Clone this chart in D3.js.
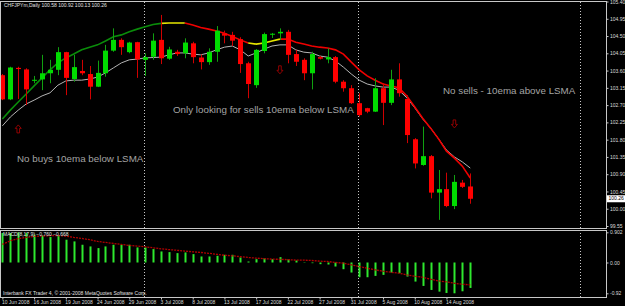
<!DOCTYPE html>
<html>
<head>
<meta charset="utf-8">
<script src="https://cdn.jsdelivr.net/npm/d3@7"></script>
<style>
	body { margin: 0; background: #000; }
	svg { display: block; }
</style>
</head>
<body>
<div id="chart"></div>
<script>
var symbol = "CHFJPYm";
var period = "Daily";

// daily bars from 10 Jun 2008 (sunday bars included)
var opens = [103.48, 102.85, 103.67, 103.63, 103.35, 103.37, 103.53, 103.62, 104.08, 103.38,
	103.59, 103.51, 103.18, 103.53, 104.12, 104.40, 104.08, 104.34, 103.88, 103.96,
	104.40, 103.91, 104.09, 104.05, 104.31, 103.94, 103.82, 104.09, 104.57, 104.53,
	104.42, 103.79, 103.22, 104.11, 104.54, 104.57, 104.61, 104.03, 103.88, 103.53,
	103.95, 103.89, 103.95, 103.31, 103.14, 102.75, 102.62, 102.53, 103.14, 102.76,
	103.37, 102.86, 101.81, 101.14, 101.37, 100.42, 100.51, 100.07, 100.68, 100.58];
var highs = [103.51, 103.70, 103.70, 103.66, 103.46, 104.01, 103.88, 104.21, 104.09, 104.01,
	103.88, 103.72, 103.86, 104.27, 104.70, 104.44, 104.35, 104.35, 104.05, 104.57,
	105.05, 104.22, 104.14, 104.44, 104.35, 104.02, 104.18, 104.76, 104.64, 104.61,
	104.47, 103.83, 104.16, 104.59, 104.58, 104.70, 104.66, 104.14, 103.92, 104.09,
	103.98, 104.18, 103.98, 103.35, 103.22, 103.01, 102.63, 103.40, 103.27, 103.62,
	103.79, 102.96, 101.84, 102.14, 101.40, 101.01, 100.94, 100.88, 100.75, 100.92];
var lows = [102.83, 102.83, 102.86, 102.70, 103.27, 103.09, 103.27, 103.48, 102.96, 103.31,
	103.48, 102.85, 103.17, 103.44, 104.09, 104.01, 104.05, 103.41, 103.46, 103.88,
	103.77, 103.88, 103.98, 103.92, 103.79, 103.63, 103.75, 103.83, 104.31, 104.24,
	103.54, 102.88, 103.15, 104.05, 104.45, 104.40, 103.79, 103.72, 103.35, 103.11,
	103.89, 103.79, 103.27, 103.05, 102.73, 102.40, 102.49, 102.52, 102.18, 102.70,
	102.92, 101.71, 101.05, 101.12, 100.27, 99.71, 100.04, 99.99, 100.54, 100.13];
var closes = [102.85, 103.68, 103.64, 103.11, 103.36, 103.53, 103.62, 104.08, 103.41, 103.69,
	103.53, 103.18, 103.54, 104.12, 104.40, 104.21, 104.33, 103.89, 103.95, 104.38,
	103.92, 104.15, 104.03, 104.33, 103.95, 103.82, 104.09, 104.64, 104.51, 104.38,
	103.77, 103.25, 104.14, 104.55, 104.56, 104.61, 104.01, 103.83, 103.53, 104.03,
	103.91, 103.95, 103.31, 103.14, 102.75, 102.44, 102.53, 103.14, 102.76, 103.37,
	103.01, 101.92, 101.18, 101.37, 100.42, 100.51, 100.07, 100.70, 100.57, 100.26];

// colored LSMA, trend code per bar (segment ending at that bar)
var lsma = [102.34, 102.57, 102.78, 102.99, 103.20, 103.41, 103.62, 103.80, 103.93, 104.03,
	104.14, 104.21, 104.27, 104.37, 104.48, 104.53, 104.61, 104.68, 104.74, 104.80,
	104.83, 104.84, 104.84, 104.84, 104.79, 104.72, 104.68, 104.63, 104.57, 104.49,
	104.40, 104.32, 104.29, 104.32, 104.37, 104.42, 104.42, 104.34, 104.29, 104.24,
	104.21, 104.19, 104.14, 104.03, 103.82, 103.62, 103.46, 103.35, 103.25, 103.20,
	103.15, 102.94, 102.65, 102.36, 102.10, 101.82, 101.50, 101.32, 101.11, 100.80];
var lsmaTrend = "gggggggggggggggggggggyyyrrrrrrrryyyyrrrrrrrrrrrrrrrrrrrrrrrr".split("");
var ema10 = [102.16, 102.39, 102.57, 102.73, 102.83, 102.94, 103.02, 103.22, 103.33, 103.35,
	103.35, 103.38, 103.43, 103.54, 103.67, 103.80, 103.88, 103.90, 103.93, 103.94,
	103.95, 104.01, 104.06, 104.06, 104.03, 104.01, 104.06, 104.14, 104.21, 104.24,
	104.14, 103.98, 104.06, 104.16, 104.24, 104.27, 104.27, 104.14, 104.08, 104.06,
	103.98, 103.95, 103.85, 103.69, 103.51, 103.35, 103.25, 103.20, 103.17, 103.17,
	103.09, 102.89, 102.63, 102.34, 102.10, 101.82, 101.53, 101.35, 101.22, 101.06];

var macdMain = [0.88, 0.88, 0.902, 0.88, 0.83, 0.80, 0.76, 0.80, 0.68, 0.63,
	0.53, 0.48, 0.43, 0.48, 0.53, 0.53, 0.53, 0.45, 0.45, 0.40,
	0.33, 0.31, 0.28, 0.30, 0.25, 0.18, 0.18, 0.20, 0.23, 0.23,
	0.15, 0.03, 0.10, 0.13, 0.10, 0.16, 0.10, 0.06, 0.01, -0.02,
	-0.05, -0.06, -0.12, -0.20, -0.30, -0.44, -0.44, -0.40, -0.37, -0.30,
	-0.32, -0.42, -0.57, -0.70, -0.82, -0.87, -0.91, -0.92, -0.86, -0.760];
var macdSignal = [0.54, 0.65, 0.71, 0.75, 0.78, 0.79, 0.80, 0.80, 0.79, 0.75,
	0.72, 0.68, 0.63, 0.60, 0.57, 0.54, 0.51, 0.49, 0.47, 0.44,
	0.41, 0.385, 0.365, 0.34, 0.32, 0.30, 0.275, 0.245, 0.215, 0.20,
	0.175, 0.15, 0.13, 0.115, 0.10, 0.095, 0.085, 0.07, 0.07, 0.06,
	0.04, 0.03, 0.0, -0.02, -0.07, -0.12, -0.17, -0.22, -0.26, -0.29,
	-0.32, -0.37, -0.41, -0.44, -0.50, -0.55, -0.58, -0.62, -0.65, -0.668];

var priceTicks = [105.40, 104.95, 104.50, 104.05, 103.60, 103.15, 102.70, 102.25, 101.80, 101.35, 100.90, 100.45, 100.00, 99.55];
var macdTicks = [0.902, 0, -0.92];
var macdTickLabels = ["0.902", "0.00", "-0.92"];
var dateLabels = ["10 Jun 2008", "16 Jun 2008", "19 Jun 2008", "24 Jun 2008", "29 Jun 2008", "3 Jul 2008", "8 Jul 2008",
	"13 Jul 2008", "17 Jul 2008", "22 Jul 2008", "27 Jul 2008", "31 Jul 2008", "5 Aug 2008", "10 Aug 2008", "14 Aug 2008"];
var dateStep = 4;
var separators = [18, 45, 73]; // 1 Jul, 1 Aug, 1 Sep

var arrowBars = [2, 35, 57];
var arrowPrices = [102.08, 103.62, 102.21];
var arrowDirs = ["up", "down", "down"];

var notes = ["No buys 10ema below LSMA", "Only looking for sells 10ema below LSMA", "No sells - 10ema above LSMA"];
var copyright = "Interbank FX Trader 4, \u00a9 2001-2008 MetaQuotes Software Corp.";

// ------------------------------------------------------------------------------------------

var width = 625, height = 306;
var right = 606;
var mainBottom = 228.5, macdTop = 230.5, macdBottom = 297.5;
var smallFont = "'Liberation Sans', Arial, sans-serif";
var colors = { g: "#0a8c0a", y: "#e6e600", r: "#f00000" };

var svg = d3.select("#chart").append("svg")
	.attr("width", width)
	.attr("height", height);
svg.append("rect").attr("width", width).attr("height", height).attr("fill", "#000");

var x = d3.scaleLinear().domain([0, 59]).range([2.4, 2.4 + 59 * 7.93]);
var y = d3.scaleLinear().domain([priceTicks[priceTicks.length - 1], priceTicks[0]]).range([226, 1.5]);
var ym = d3.scaleLinear().domain(d3.extent(macdMain.concat(macdSignal))).range([293.3, 232.3]);

var defs = svg.append("defs");
defs.append("clipPath").attr("id", "clipMain").append("rect")
	.attr("x", 1).attr("y", 2).attr("width", right - 1).attr("height", mainBottom - 2);
defs.append("clipPath").attr("id", "clipMacd").append("rect")
	.attr("x", 1).attr("y", macdTop).attr("width", right - 1).attr("height", macdBottom - macdTop);

// period separators
svg.append("g").selectAll("line").data(separators).enter().append("line")
	.attr("x1", function(d) { return Math.round(x(d)) - 0.5; })
	.attr("x2", function(d) { return Math.round(x(d)) - 0.5; })
	.attr("y1", 2).attr("y2", macdBottom)
	.attr("stroke", "#c8c8c8")
	.attr("stroke-width", 1)
	.attr("stroke-dasharray", "1,2");

// comments on the chart
var notePos = [[17, 161.5], [173, 113], [443, 93.5]];
svg.append("g").selectAll("text").data(notes).enter().append("text")
	.attr("x", function(d, i) { return notePos[i][0]; })
	.attr("y", function(d, i) { return notePos[i][1]; })
	.attr("fill", "#a4a4a4")
	.style("font", "9.8px " + smallFont)
	.text(function(d) { return d; });

var main = svg.append("g").attr("clip-path", "url(#clipMain)");

var line = d3.line()
	.x(function(d) { return x(d[0]); })
	.y(function(d) { return y(d[1]); });

main.append("path")
	.attr("d", line(ema10.map(function(v, i) { return [i, v]; })))
	.attr("fill", "none")
	.attr("stroke", "#b4b4b4")
	.attr("stroke-width", 1);

// LSMA in runs of one colour
var runs = [];
for (var i = 1; i < lsma.length; i++) {
	var c = lsmaTrend[i];
	if (!runs.length || runs[runs.length - 1].c !== c) {
		runs.push({ c: c, pts: [[i - 1, lsma[i - 1]]] });
	}
	runs[runs.length - 1].pts.push([i, lsma[i]]);
}
main.append("g").selectAll("path").data(runs).enter().append("path")
	.attr("d", function(d) { return line(d.pts); })
	.attr("fill", "none")
	.attr("stroke", function(d) { return colors[d.c]; })
	.attr("stroke-width", 1.6);

// candles
var bars = opens.map(function(o, i) {
	return { i: i, o: o, h: highs[i], l: lows[i], c: closes[i], up: closes[i] >= o };
});
var candle = main.append("g").selectAll("g").data(bars).enter().append("g");
candle.append("line")
	.attr("x1", function(d) { return Math.round(x(d.i)) + 0.5; })
	.attr("x2", function(d) { return Math.round(x(d.i)) + 0.5; })
	.attr("y1", function(d) { return y(d.h); })
	.attr("y2", function(d) { return y(d.l); })
	.attr("stroke", function(d) { return d.up ? "#10a010" : "#d00000"; });
candle.append("rect")
	.attr("x", function(d) { return Math.round(x(d.i)) - 2; })
	.attr("width", 5)
	.attr("y", function(d) { return y(Math.max(d.o, d.c)); })
	.attr("height", function(d) { return Math.max(1, Math.abs(y(d.o) - y(d.c))); })
	.attr("fill", function(d) { return d.up ? "#00dc00" : "#ff0000"; });

// signal arrows
function arrowPath(dir) {
	var p = [[0, -4], [3, -0.5], [1.3, -0.5], [1.3, 4], [-1.3, 4], [-1.3, -0.5], [-3, -0.5]];
	var s = dir === "up" ? 1 : -1;
	return "M" + p.map(function(q) { return q[0] + "," + (q[1] * s); }).join("L") + "Z";
}
main.append("g").selectAll("path").data(arrowBars).enter().append("path")
	.attr("transform", function(d, i) { return "translate(" + x(d) + "," + y(arrowPrices[i]) + ")"; })
	.attr("d", function(d, i) { return arrowPath(arrowDirs[i]); })
	.attr("fill", "none")
	.attr("stroke", "#a00000")
	.attr("stroke-width", 0.9);

// MACD
var macd = svg.append("g").attr("clip-path", "url(#clipMacd)");
macd.append("g").selectAll("rect").data(macdMain).enter().append("rect")
	.attr("x", function(d, i) { return Math.round(x(i)) - 0.5; })
	.attr("width", 2)
	.attr("y", function(d) { return Math.min(ym(d), ym(0)); })
	.attr("height", function(d) { return Math.abs(ym(d) - ym(0)); })
	.attr("fill", "#2ee82e");
macd.append("path")
	.attr("d", d3.line()
		.x(function(d, i) { return x(i); })
		.y(function(d) { return ym(d); })(macdSignal))
	.attr("fill", "none")
	.attr("stroke", "#b00000")
	.attr("stroke-width", 1.3)
	.attr("stroke-dasharray", "2,1");

// frames
svg.append("rect").attr("x", 0.5).attr("y", 1.5).attr("width", right).attr("height", mainBottom - 1.5)
	.attr("fill", "none").attr("stroke", "#c8c8c8");
svg.append("rect").attr("x", 0.5).attr("y", macdTop).attr("width", right).attr("height", macdBottom - macdTop)
	.attr("fill", "none").attr("stroke", "#c8c8c8");

// axes
function styleAxis(g) {
	g.select(".domain").remove();
	g.selectAll(".tick line").attr("stroke", "#c8c8c8");
	g.selectAll(".tick text").attr("fill", "#dcdcdc").style("font", "5px " + smallFont);
}

svg.append("g")
	.attr("transform", "translate(" + (right + 0.5) + ",0)")
	.call(d3.axisRight(y).tickValues(priceTicks).tickSize(2).tickPadding(1.5).tickFormat(d3.format(".2f")))
	.call(styleAxis);

svg.append("g")
	.attr("transform", "translate(" + (right + 0.5) + ",0)")
	.call(d3.axisRight(ym).tickValues(macdTicks).tickSize(2).tickPadding(1.5)
		.tickFormat(function(d, i) { return macdTickLabels[i]; }))
	.call(styleAxis);

var dateAxis = svg.append("g")
	.attr("transform", "translate(0," + macdBottom + ")")
	.call(d3.axisBottom(x)
		.tickValues(dateLabels.map(function(d, i) { return i * dateStep; }))
		.tickSize(2).tickPadding(1)
		.tickFormat(function(d, i) { return dateLabels[i]; }))
	.call(styleAxis);
dateAxis.selectAll(".tick text").attr("text-anchor", "start").attr("dx", -1);

// last price marker
var last = closes[closes.length - 1];
svg.append("rect")
	.attr("x", right + 1).attr("y", y(last) - 3.5)
	.attr("width", 18).attr("height", 7)
	.attr("fill", "#fff");
svg.append("text")
	.attr("x", right + 2.5).attr("y", y(last))
	.attr("dy", "0.32em")
	.attr("fill", "#000")
	.style("font", "5px " + smallFont)
	.text(d3.format(".2f")(last));

// titles
var n = opens.length - 1;
svg.append("text")
	.attr("x", 4).attr("y", 7)
	.attr("fill", "#e0e0e0")
	.style("font", "5px " + smallFont)
	.text(symbol + "," + period + "  " + [opens[n], highs[n], lows[n], closes[n]].map(d3.format(".2f")).join(" "));
svg.append("text")
	.attr("x", 3).attr("y", 236)
	.attr("fill", "#e0e0e0")
	.style("font", "5px " + smallFont)
	.text("MACD(8,17,9) " + d3.format(".3f")(macdMain[n]) + " " + d3.format(".3f")(macdSignal[n]));
svg.append("text")
	.attr("x", 3).attr("y", 295)
	.attr("fill", "#e0e0e0")
	.style("font", "5px " + smallFont)
	.text(copyright);
</script>
</body>
</html>
